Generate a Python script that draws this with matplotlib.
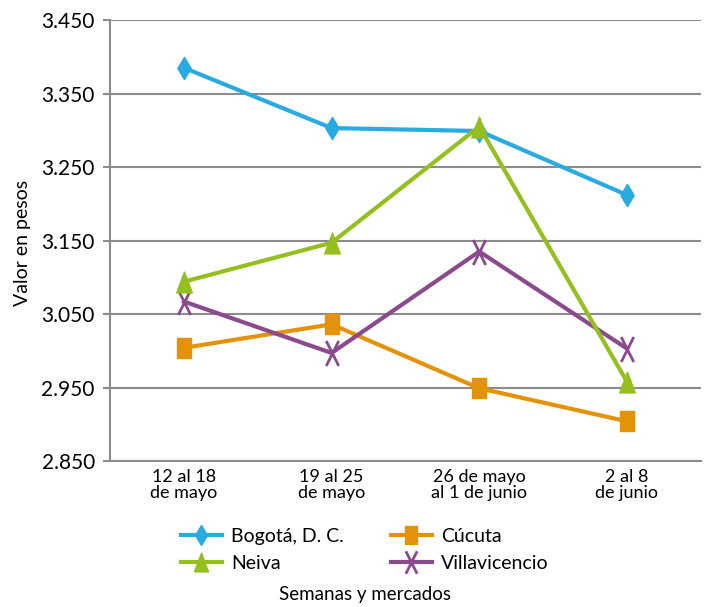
import numpy as np
import matplotlib
matplotlib.use("Agg")
import matplotlib.pyplot as plt
from matplotlib.path import Path
from matplotlib.ticker import FuncFormatter

# ===================== 数据 =====================
semanas = ["12 al 18\nde mayo", "19 al 25\nde mayo", "26 de mayo\nal 1 de junio", "2 al 8\nde junio"]
bogota = [3385, 3303, 3299, 3212]
cucuta = [3004, 3036, 2949, 2904]
neiva = [3094, 3147, 3305, 2958]
villavicencio = [3067, 2997, 3135, 3003]

plt.rcParams["font.family"] = ["Lato", "DejaVu Sans"]

# 自定义标记（原图中标记被纵向拉长）
rect_mk = Path([(-0.65, -1), (0.65, -1), (0.65, 1), (-0.65, 1), (-0.65, -1)],
               [Path.MOVETO, Path.LINETO, Path.LINETO, Path.LINETO, Path.CLOSEPOLY])
diam_mk = Path([(0, -1), (0.6, 0), (0, 1), (-0.6, 0), (0, -1)],
               [Path.MOVETO, Path.LINETO, Path.LINETO, Path.LINETO, Path.CLOSEPOLY])
tri_mk = Path([(-0.75, -1), (0.75, -1), (0, 1), (-0.75, -1)],
              [Path.MOVETO, Path.LINETO, Path.LINETO, Path.CLOSEPOLY])
x_mk = Path([(-0.5, -1), (0.5, 1), (-0.5, 1), (0.5, -1)],
            [Path.MOVETO, Path.LINETO, Path.MOVETO, Path.LINETO])

fig = plt.figure(figsize=(7.10, 6.07), dpi=100)
ax = fig.add_axes([0.155, 0.2405, 0.832, 0.7265])

x = np.arange(len(semanas))
h_bog, = ax.plot(x, bogota, color="#29ABE2", lw=3, marker=diam_mk, ms=16,
                 label="Bogotá, D. C.", zorder=3)
h_neiva, = ax.plot(x, neiva, color="#95BE1F", lw=3, marker=tri_mk, ms=15,
                   label="Neiva", zorder=4)
h_cuc, = ax.plot(x, cucuta, color="#E49207", lw=3, marker=rect_mk, ms=15,
                 label="Cúcuta", zorder=3)
h_vil, = ax.plot(x, villavicencio, color="#8A4A8C", lw=3, marker=x_mk, ms=18,
                 mew=2, mfc="none", label="Villavicencio", zorder=3)

ax.set_xlim(-0.5, 3.5)
ax.set_ylim(2850, 3450)
ax.set_yticks(np.arange(2850, 3451, 100))
ax.yaxis.set_major_formatter(FuncFormatter(lambda v, p: f"{v/1000:.3f}"))
ax.set_xticks(x)
ax.set_xticklabels(semanas, fontsize=13, linespacing=0.95)
ax.tick_params(axis="x", length=0, pad=6)
ax.tick_params(axis="y", length=5, width=1.5, color="#8c8c8c", labelsize=15, pad=6)

ax.grid(axis="y", color="#8c8c8c", lw=1.5)
ax.set_axisbelow(True)
for s in ["top", "right"]:
    ax.spines[s].set_visible(False)
for s in ["left", "bottom"]:
    ax.spines[s].set_color("#8c8c8c")
    ax.spines[s].set_linewidth(1.5)

fig.text(0.032, 0.6, "Valor en pesos", rotation=90, ha="center", va="center", fontsize=14)
fig.text(0.514, 0.02, "Semanas y mercados", ha="center", va="center", fontsize=13.5)

fig.legend(handles=[h_bog, h_neiva, h_cuc, h_vil], ncol=2, loc="center",
           bbox_to_anchor=(0.514, 0.094), frameon=False, fontsize=14,
           handlelength=2.1, columnspacing=2.4, labelspacing=0.55, markerscale=0.9,
           handletextpad=0.5, borderpad=0)

fig.savefig("out.png", dpi=100)
